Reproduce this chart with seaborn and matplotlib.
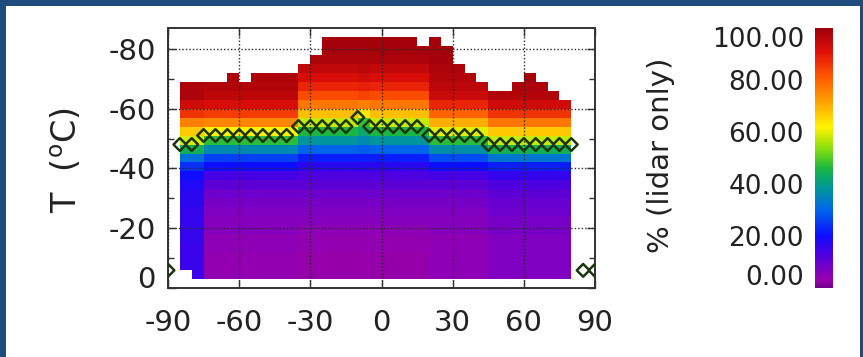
import numpy as np
import pandas as pd
import matplotlib
matplotlib.use("Agg")
import matplotlib.pyplot as plt
import seaborn as sns
from matplotlib.colors import LinearSegmentedColormap
from matplotlib.transforms import ScaledTranslation
from matplotlib.patches import Rectangle

# ---------------- data ----------------
# latitude bins: left edge of each 5-degree column that holds data
col_lat = list(range(-85, 80, 5))
# profile group of each column (by its 50% crossing level)
col_group = ["48L", "48L"] + ["51L"] * 8 + ["54"] * 5 + ["57"] + ["54"] * 5 + ["51R"] * 5 + ["48R"] * 7
# coldest (top) and warmest (bottom) edge of the data in each column, degC
col_top = [-69, -69, -69, -69, -72, -69, -72, -72, -72, -72, -75, -78, -84, -84, -84, -84, -84,
           -84, -84, -84, -81, -84, -81, -75, -72, -69, -66, -66, -69, -72, -69, -66, -63]
col_bottom = [-6] + [-3] * 32

# temperature rows: 3-degree bins, top edge of each row from -84 to -6
row_top = list(range(-84, -3, 3))
# % (lidar only) per row, top row first, for each profile group
profiles = {
    "48L": [99, 99, 99, 99, 99, 98, 98, 93, 86, 76, 67, 59, 44, 32, 24, 20, 18, 17, 17, 16, 16, 16, 16, 15, 15, 15, 15],
    "51L": [99, 99, 99, 99, 98, 97, 96, 92, 85, 75, 62, 47, 36, 26, 20, 14, 11, 9, 8, 7, 6, 6, 5, 5, 4, 4, 4],
    "54":  [99, 99, 98, 95, 92, 88, 83, 77, 68, 58, 46, 38, 30, 22, 17, 13, 11, 9, 8, 7, 6, 5, 4, 4, 3, 3, 3],
    "57":  [99, 99, 98, 96, 93, 89, 84, 76, 63, 48, 42, 36, 29, 22, 17, 13, 11, 9, 8, 7, 6, 5, 4, 4, 3, 3, 3],
    "51R": [99, 99, 99, 98, 97, 96, 94, 88, 80, 70, 60, 47, 37, 27, 20, 14, 11, 9, 8, 7, 6, 6, 5, 5, 5, 5, 5],
    "48R": [99, 99, 99, 99, 99, 98, 97, 93, 86, 77, 67, 58, 44, 33, 22, 16, 13, 11, 10, 9, 8, 8, 7, 7, 7, 7, 7],
}

# 50% level markers (diamonds)
dia_lat = list(range(-90, 95, 5))
dia_T = ([-6] + [-48] * 2 + [-51] * 8 + [-54] * 5 + [-57] + [-54] * 5 + [-51] * 5 + [-48] * 8 + [-6, -6])

x_ticks = [-90, -60, -30, 0, 30, 60, 90]
y_ticks = [-80, -60, -40, -20, 0]
cb_ticks = [0, 20, 40, 60, 80, 100]

# ---------------- grid table for the heatmap ----------------
full_lat = list(range(-90, 90, 5))         # 36 columns covering the x axis
full_T = list(range(-87, 0, 3))            # 29 rows covering the y axis (top edges)
table = pd.DataFrame(np.nan, index=full_T, columns=full_lat)
for lat, grp, top, bot in zip(col_lat, col_group, col_top, col_bottom):
    for t, v in zip(row_top, profiles[grp]):
        if t >= top and t + 3 <= bot:
            table.loc[t, lat] = v

# ---------------- colours ----------------
cmap = LinearSegmentedColormap.from_list("idl_rainbow", [
    (0.00, (0.45, 0.00, 0.55)),
    (0.03, (0.60, 0.00, 0.68)),
    (0.08, (0.46, 0.00, 0.78)),
    (0.13, (0.30, 0.00, 0.88)),
    (0.20, (0.05, 0.05, 1.00)),
    (0.30, (0.00, 0.40, 0.92)),
    (0.38, (0.00, 0.58, 0.62)),
    (0.46, (0.10, 0.72, 0.25)),
    (0.54, (0.55, 0.88, 0.05)),
    (0.62, (1.00, 0.95, 0.00)),
    (0.72, (1.00, 0.62, 0.00)),
    (0.82, (1.00, 0.33, 0.00)),
    (0.91, (0.88, 0.06, 0.04)),
    (1.00, (0.62, 0.00, 0.04)),
])
navy = "#1f4a7c"
txt = "#222222"

# ---------------- figure ----------------
W, H = 863, 357
fig = plt.figure(figsize=(W / 100, H / 100), dpi=100)
fig.patch.set_facecolor(navy)
fig.patches.append(Rectangle((6 / W, 0), (860 - 6) / W, (H - 6) / H,
                             transform=fig.transFigure, facecolor="white",
                             edgecolor="none", zorder=-5))

pos = [168 / W, (H - 288.3) / H, (595 - 168) / W, (288.3 - 27.7) / H]
ax_heat = fig.add_axes(pos)
cax = fig.add_axes([815 / W, (H - 288) / H, 18 / W, 260 / H])

sns.heatmap(table, ax=ax_heat, cmap=cmap, vmin=0, vmax=100, cbar_ax=cax,
            xticklabels=False, yticklabels=False)
ax_heat.axis("off")

ax = fig.add_axes(pos, facecolor="none")
sns.scatterplot(x=dia_lat, y=dia_T, ax=ax, marker="D", s=42, facecolor="none",
                edgecolor="#1a360f", linewidth=1.8, legend=False, zorder=5)
ax.set_xlim(-90, 90)
ax.set_ylim(0, -87)
ax.set_xticks(x_ticks, [str(v) for v in x_ticks])
ax.set_yticks(y_ticks, [str(v) for v in y_ticks])
ax.set_yticks([-70, -50, -30, -10], minor=True)
ax.tick_params(which="both", direction="in", top=True, right=True, colors="#333333",
               labelcolor=txt, labelsize=21, width=1)
ax.tick_params(which="major", length=6)
ax.tick_params(which="minor", length=4)
ax.tick_params(axis="x", pad=15)
ax.tick_params(axis="y", pad=9)
ax.grid(which="major", color="#2a2a2a", linestyle=(0, (1, 1.5)), linewidth=1)
ax.set_axisbelow(False)
for s in ax.spines.values():
    s.set_color("#333333")
    s.set_linewidth(1.4)
ax.set_xlabel("")
ax.set_ylabel("")
# the "0" label sits a little above the axis bottom in the reference
lbl0 = ax.yaxis.get_major_ticks()[-1].label1
lbl0.set_transform(lbl0.get_transform() + ScaledTranslation(0, 0.11, fig.dpi_scale_trans))

fig.text(67 / W, 1 - 160 / H, r"T  ($^{\mathrm{o}}$C)", rotation=90, ha="center",
         va="center", fontsize=24, color=txt)

# colorbar
cbar = ax_heat.collections[0].colorbar
cbar.outline.set_visible(False)
cbar.set_ticks(cb_ticks, labels=[f"{v:.2f}" for v in cb_ticks])
cax.yaxis.set_ticks_position("left")
cax.tick_params(length=0, labelsize=19, pad=8, labelcolor=txt)
ticks_cb = cax.yaxis.get_major_ticks()
ticks_cb[-1].label1.set_transform(ticks_cb[-1].label1.get_transform() +
                                  ScaledTranslation(0, -0.09, fig.dpi_scale_trans))
ticks_cb[0].label1.set_transform(ticks_cb[0].label1.get_transform() +
                                 ScaledTranslation(0, 0.13, fig.dpi_scale_trans))
fig.text(661 / W, 1 - 155 / H, "% (lidar only)", rotation=90, ha="center",
         va="center", fontsize=21, color=txt)

fig.savefig("out.png", dpi=100, facecolor=fig.get_facecolor())
